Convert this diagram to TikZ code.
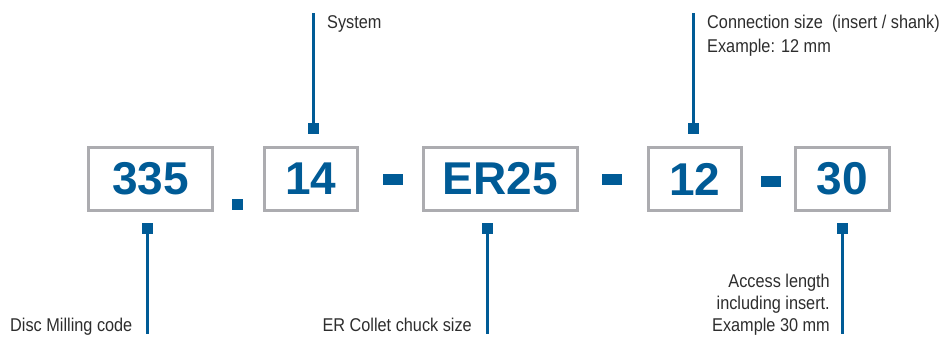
\documentclass[tikz,border=0pt]{standalone}
\usepackage{fontspec}
\setmainfont{Liberation Sans}
\newfontfamily\labfont[FakeStretch=0.88]{Liberation Sans}
\definecolor{codeblue}{RGB}{0,91,150}
\definecolor{boxgrey}{RGB}{172,172,176}
\definecolor{labgrey}{RGB}{45,45,45}
\tikzset{
  codebox/.style={draw=boxgrey, line width=2.4pt, fill=white, inner sep=0pt,
    minimum height=63pt, text=codeblue, font=\fontsize{46}{46}\selectfont\bfseries},
  marker/.style={fill=codeblue, inner sep=0pt, minimum size=11pt},
  sepdash/.style={fill=codeblue, inner sep=0pt, minimum width=20pt, minimum height=11pt},
  leader/.style={draw=codeblue, line width=2.6pt},
  lab/.style={text=labgrey, inner sep=0pt, font=\labfont\fontsize{18.5}{22}\selectfont}
}
\begin{document}
\begin{tikzpicture}[x=1pt,y=-1pt]
\useasboundingbox (0,0) rectangle (943,338);
% code boxes
\node[codebox, minimum width=124pt] (b1) at (150.5,179) {335};
\node[codebox, minimum width=93pt] (b2) at (311,179) {14};
\node[codebox, minimum width=154pt] (b3) at (500.5,179) {ER25};
\node[codebox, minimum width=93pt] (b4) at (695,179) {12};
\node[codebox, minimum width=94pt] (b5) at (842.5,179) {30};
% separators
\node[marker] (s1) at (237.5,204) {};
\node[sepdash] (s2) at (393,179) {};
\node[sepdash] (s3) at (612,179) {};
\node[sepdash] (s4) at (771,181) {};
% markers
\node[marker] (mt2) at (313.5,128.5) {};
\node[marker] (mt4) at (693.5,128.5) {};
\node[marker] (mb1) at (147.5,228.5) {};
\node[marker] (mb3) at (487.5,228.5) {};
\node[marker] (mb5) at (842.5,228.5) {};
% leader ends
\coordinate (et2) at (313.5,13);
\coordinate (et4) at (693.5,13);
\coordinate (eb1) at (147.5,334);
\coordinate (eb3) at (487.5,334);
\coordinate (eb5) at (842.5,334);
\draw[leader] (mt2.north) -- (et2);
\draw[leader] (mt4.north) -- (et4);
\draw[leader] (mb1.south) -- (eb1);
\draw[leader] (mb3.south) -- (eb3);
\draw[leader] (mb5.south) -- (eb5);
% labels
\node[lab, anchor=base west] (l2) at (327,28) {System};
\node[lab, anchor=base west] (l4a) at (707,28) {Connection size\ \ (insert / shank)};
\node[lab, anchor=base west] (l4b) at (707,52) {Example: 12 mm};
\node[lab, anchor=base west] (l1) at (10,331) {Disc Milling code};
\node[lab, anchor=base east] (l3) at (472,331) {ER Collet chuck size};
\node[lab, anchor=base east] (l5a) at (830,287) {Access length};
\node[lab, anchor=base east] (l5b) at (830,309) {including insert.};
\node[lab, anchor=base east] (l5c) at (830,331) {Example 30 mm};
\end{tikzpicture}
\end{document}
